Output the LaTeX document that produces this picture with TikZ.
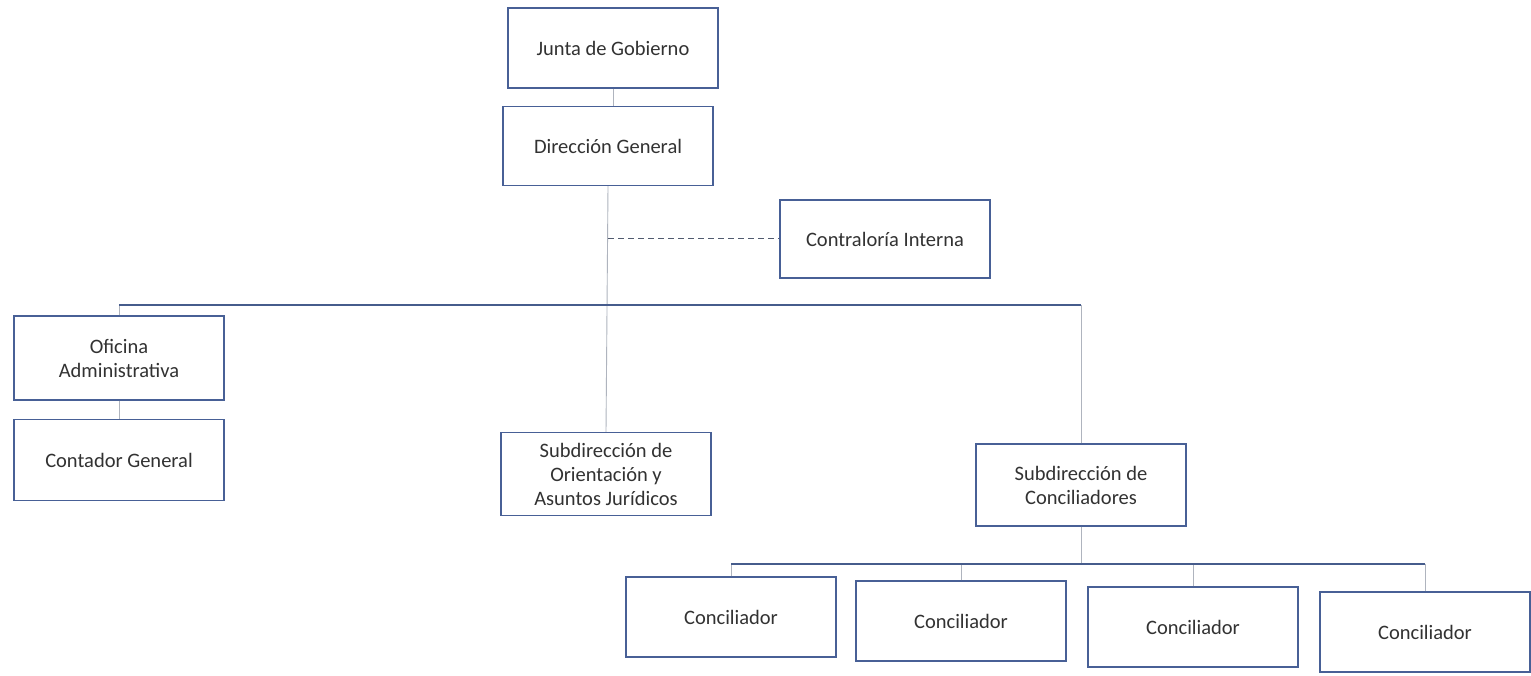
\documentclass[tikz,border=0pt]{standalone}
\usepackage{fontspec}
\setmainfont{Carlito}
\begin{document}
\begin{tikzpicture}[x=1pt,y=-1pt,
  box/.style={draw=boxc,line width=1.2pt,fill=white,minimum width=210pt,minimum height=80pt,
    align=center,inner sep=2pt,text=txtc,font=\fontsize{20.5}{24}\selectfont},
  link/.style={draw=linkc,line width=0.9pt},
  bus/.style={draw=busc,line width=1.3pt},
  dotlink/.style={draw=dashc,line width=1pt,dash pattern=on 6pt off 4pt}]
\definecolor{boxc}{RGB}{72,96,150}
\definecolor{txtc}{RGB}{50,50,50}
\definecolor{linkc}{RGB}{175,180,190}
\definecolor{busc}{RGB}{70,92,140}
\definecolor{dashc}{RGB}{80,90,110}
\useasboundingbox[fill=white] (0,0) rectangle (1531,676);

\node[box] (jg) at (613,48) {Junta de Gobierno};
\node[box,minimum height=79pt] (dg) at (608,146) {Dirección General};
\node[box,minimum height=78pt] (ci) at (885,239) {Contraloría Interna};
\node[box,minimum height=84pt] (oa) at (119,358) {Oficina\\Administrativa};
\node[box,minimum height=81pt] (cg) at (119,460) {Contador General};
\node[box,minimum height=83pt] (so) at (606,474) {Subdirección de\\Orientación y\\Asuntos Jurídicos};
\node[box,minimum height=82pt] (sc) at (1081,485) {Subdirección de\\Conciliadores};
\node[box] (c1) at (731,617) {Conciliador};
\node[box] (c2) at (961,621) {Conciliador};
\node[box] (c3) at (1193,627) {Conciliador};
\node[box] (c4) at (1425,632) {Conciliador};

\coordinate (top) at (606,305);
\coordinate (low) at (1081,564);

\draw[link] (jg.south) -- (jg.south |- dg.north);
\draw[link] (dg.south) -- (so.north);
\draw[dotlink] (dg.south |- ci.west) -- (ci.west);
\draw[link] (oa.south) -- (cg.north);
\draw[link] (oa.north) -- (oa.north |- top);
\draw[link] (sc.north) -- (sc.north |- top);
\draw[bus] (oa.north |- top) -- (sc.north |- top);
\draw[link] (sc.south) -- (low);
\draw[link] (c1.north) -- (c1.north |- low);
\draw[link] (c2.north) -- (c2.north |- low);
\draw[link] (c3.north) -- (c3.north |- low);
\draw[link] (c4.north) -- (c4.north |- low);
\draw[bus] (c1.north |- low) -- (c4.north |- low);
\end{tikzpicture}
\end{document}
